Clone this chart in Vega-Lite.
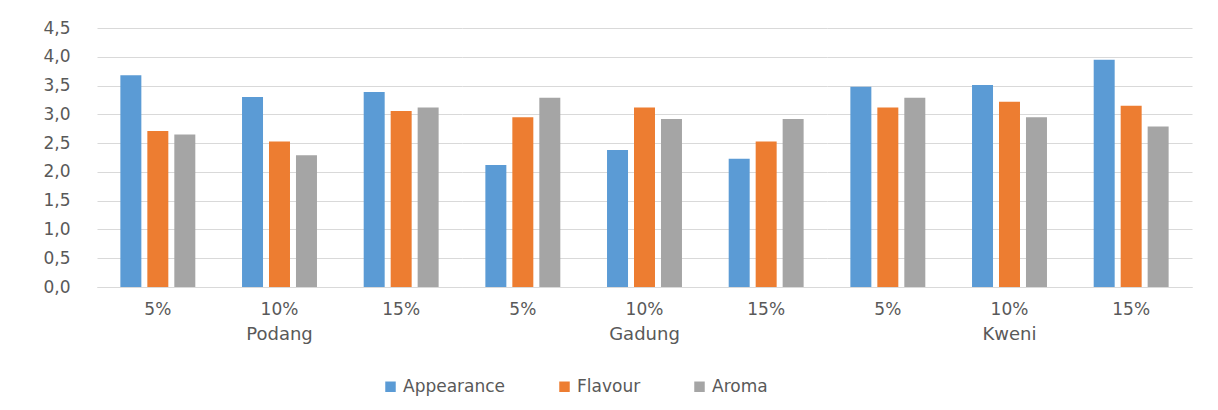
{
  "$schema": "https://vega.github.io/schema/vega-lite/v6.json",
  "padding": {"left": 42, "top": 19, "right": 26, "bottom": 5},
  "data": {"values": [
    {"variety": "Podang", "level": "5%", "attribute": "Appearance", "score": 3.68},
    {"variety": "Podang", "level": "5%", "attribute": "Flavour", "score": 2.71},
    {"variety": "Podang", "level": "5%", "attribute": "Aroma", "score": 2.65},
    {"variety": "Podang", "level": "10%", "attribute": "Appearance", "score": 3.30},
    {"variety": "Podang", "level": "10%", "attribute": "Flavour", "score": 2.53},
    {"variety": "Podang", "level": "10%", "attribute": "Aroma", "score": 2.29},
    {"variety": "Podang", "level": "15%", "attribute": "Appearance", "score": 3.39},
    {"variety": "Podang", "level": "15%", "attribute": "Flavour", "score": 3.06},
    {"variety": "Podang", "level": "15%", "attribute": "Aroma", "score": 3.12},
    {"variety": "Gadung", "level": "5%", "attribute": "Appearance", "score": 2.12},
    {"variety": "Gadung", "level": "5%", "attribute": "Flavour", "score": 2.95},
    {"variety": "Gadung", "level": "5%", "attribute": "Aroma", "score": 3.29},
    {"variety": "Gadung", "level": "10%", "attribute": "Appearance", "score": 2.38},
    {"variety": "Gadung", "level": "10%", "attribute": "Flavour", "score": 3.12},
    {"variety": "Gadung", "level": "10%", "attribute": "Aroma", "score": 2.92},
    {"variety": "Gadung", "level": "15%", "attribute": "Appearance", "score": 2.23},
    {"variety": "Gadung", "level": "15%", "attribute": "Flavour", "score": 2.53},
    {"variety": "Gadung", "level": "15%", "attribute": "Aroma", "score": 2.92},
    {"variety": "Kweni", "level": "5%", "attribute": "Appearance", "score": 3.48},
    {"variety": "Kweni", "level": "5%", "attribute": "Flavour", "score": 3.12},
    {"variety": "Kweni", "level": "5%", "attribute": "Aroma", "score": 3.29},
    {"variety": "Kweni", "level": "10%", "attribute": "Appearance", "score": 3.51},
    {"variety": "Kweni", "level": "10%", "attribute": "Flavour", "score": 3.22},
    {"variety": "Kweni", "level": "10%", "attribute": "Aroma", "score": 2.95},
    {"variety": "Kweni", "level": "15%", "attribute": "Appearance", "score": 3.95},
    {"variety": "Kweni", "level": "15%", "attribute": "Flavour", "score": 3.15},
    {"variety": "Kweni", "level": "15%", "attribute": "Aroma", "score": 2.79}
  ]},
  "facet": {
    "column": {
      "field": "variety", "type": "nominal", "sort": ["Podang", "Gadung", "Kweni"],
      "header": {"title": null, "labelOrient": "bottom", "labelFont": "DejaVu Sans", "labelFontSize": 18, "labelColor": "#595959", "labelPadding": 9}
    }
  },
  "spacing": 0,
  "spec": {
    "width": 365,
    "height": 259,
    "mark": {"type": "bar"},
    "encoding": {
      "x": {
        "field": "level", "type": "nominal", "sort": ["5%", "10%", "15%"],
        "scale": {"paddingInner": 0.384, "paddingOuter": 0.192},
        "axis": {"title": null, "ticks": false, "labelAngle": 0, "labelPadding": 14, "domainColor": "#d9d9d9", "grid": false}
      },
      "xOffset": {
        "field": "attribute", "type": "nominal", "sort": ["Appearance", "Flavour", "Aroma"],
        "scale": {"paddingInner": 0.222}
      },
      "y": {
        "field": "score", "type": "quantitative",
        "scale": {"domain": [0, 4.5], "nice": false},
        "axis": {"title": null, "values": [0, 0.5, 1, 1.5, 2, 2.5, 3, 3.5, 4, 4.5], "labelExpr": "replace(format(datum.value, '.1f'), '.', ',')", "domain": false, "ticks": false, "gridColor": "#d9d9d9", "labelPadding": 27}
      },
      "color": {
        "field": "attribute", "type": "nominal",
        "scale": {"domain": ["Appearance", "Flavour", "Aroma"], "range": ["#5B9BD5", "#ED7D31", "#A5A5A5"]},
        "legend": {"title": null, "orient": "none", "legendX": 285, "legendY": 350, "direction": "horizontal", "symbolType": "square", "symbolSize": 110, "symbolStrokeWidth": 0, "labelFontSize": 17, "labelFont": "DejaVu Sans", "labelColor": "#595959", "columnPadding": 50}
      }
    }
  },
  "config": {
    "view": {"stroke": null},
    "axis": {"labelFont": "DejaVu Sans", "labelFontSize": 17, "labelColor": "#595959"}
  }
}
